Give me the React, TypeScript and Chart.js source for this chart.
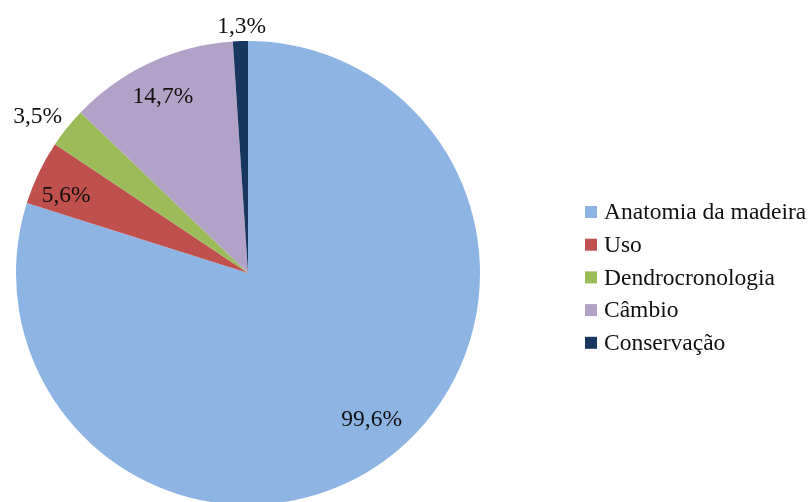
import React, { useEffect, useRef } from "react";
import { Chart, registerables } from "chart.js";

Chart.register(...registerables);

const categories = ["Anatomia da madeira", "Uso", "Dendrocronologia", "Câmbio", "Conservação"];
const values = [99.6, 5.6, 3.5, 14.7, 1.3];
const valueLabels = ["99,6%", "5,6%", "3,5%", "14,7%", "1,3%"];
const colors = ["#8EB4E3", "#C0504D", "#9BBB59", "#B3A2C7", "#17375E"];
// radial position of each value label, as a fraction of the pie radius
const labelRadiusFactor = [0.825, 0.853, 1.133, 0.847, 1.065];
// angular nudge of each value label from the slice's middle, in degrees
const labelAngleOffset = [-4, -2.4, -1.9, -0.7, 0.4];

const FONT = "'Liberation Serif', 'Times New Roman', serif";

const labelPlugin = {
  id: "valueLabels",
  afterDatasetsDraw(chart: any) {
    const ctx = chart.ctx;
    const meta = chart.getDatasetMeta(0);
    ctx.save();
    ctx.font = `23.5px ${FONT}`;
    ctx.fillStyle = "#111";
    ctx.textAlign = "center";
    ctx.textBaseline = "middle";
    meta.data.forEach((arc: any, i: number) => {
      const p = arc.getProps(["x", "y", "startAngle", "endAngle", "outerRadius"], true);
      const mid = (p.startAngle + p.endAngle) / 2 + (labelAngleOffset[i] * Math.PI) / 180;
      const r = p.outerRadius * labelRadiusFactor[i];
      ctx.fillText(valueLabels[i], p.x + Math.cos(mid) * r, p.y + Math.sin(mid) * r + 1);
    });
    ctx.restore();
  },
};

const legendPlugin = {
  id: "customLegend",
  afterDraw(chart: any) {
    const ctx = chart.ctx;
    ctx.save();
    ctx.font = `23.5px ${FONT}`;
    ctx.textBaseline = "middle";
    ctx.textAlign = "left";
    const x0 = 585;
    const y0 = 212;
    const step = 32.7;
    categories.forEach((c, i) => {
      const y = y0 + i * step;
      ctx.fillStyle = colors[i];
      ctx.fillRect(x0, y - 6, 12, 12);
      ctx.fillStyle = "#111";
      ctx.fillText(c, x0 + 19, y + 1);
    });
    ctx.restore();
  },
};

export default function App() {
  const ref = useRef<HTMLCanvasElement | null>(null);
  useEffect(() => {
    if (!ref.current) return;
    const chart = new Chart(ref.current, {
      type: "pie",
      data: {
        labels: categories,
        datasets: [
          {
            data: values,
            backgroundColor: colors,
            borderWidth: 0,
          },
        ],
      },
      options: {
        animation: false,
        responsive: false,
        maintainAspectRatio: false,
        layout: { padding: { left: 16, top: 41, right: 331, bottom: 55 } },
        plugins: {
          legend: { display: false },
          tooltip: { enabled: false },
        },
      },
      plugins: [labelPlugin, legendPlugin],
    });
    return () => chart.destroy();
  }, []);
  return (
    <div style={{ position: "absolute", left: 0, top: 0, width: 811, height: 560, background: "#fff" }}>
      <canvas ref={ref} width={811} height={560} style={{ display: "block" }} />
    </div>
  );
}
